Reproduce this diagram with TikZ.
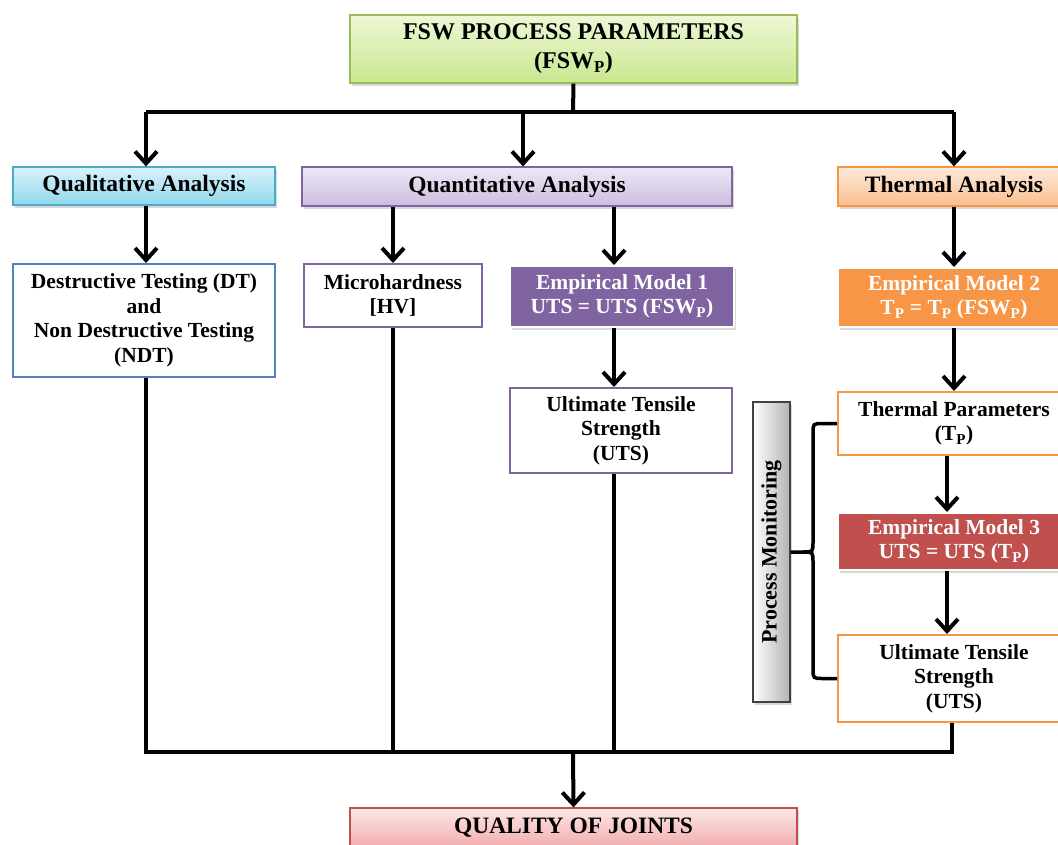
\documentclass[tikz,border=0pt]{standalone}
\usepackage{fontspec}
\setmainfont{Liberation Serif}
\usetikzlibrary{arrows.meta,shadows,calc}
\definecolor{gborder}{HTML}{9BBB59}
\definecolor{gtop}{HTML}{EEF8D6}
\definecolor{gbot}{HTML}{C9E78F}
\definecolor{cborder}{HTML}{4BACC6}
\definecolor{ctop}{HTML}{D9F2FA}
\definecolor{cbot}{HTML}{92D8EC}
\definecolor{pborder}{HTML}{8064A2}
\definecolor{ptop}{HTML}{EEE8F5}
\definecolor{pbot}{HTML}{CBBDE0}
\definecolor{oborder}{HTML}{F79646}
\definecolor{otop}{HTML}{FDEBDC}
\definecolor{obot}{HTML}{F9BE8E}
\definecolor{rborder}{HTML}{C0504D}
\definecolor{rtop}{HTML}{FDE7E7}
\definecolor{rbot}{HTML}{F0A3A2}
\definecolor{bborder}{HTML}{4F81BD}
\definecolor{emone}{HTML}{8064A2}
\definecolor{emtwo}{HTML}{F79646}
\definecolor{emthree}{HTML}{C0504D}
\tikzset{
  bx/.style={rectangle, inner sep=0pt, align=center, font=\fontsize{21.5}{24.5}\selectfont\bfseries, line width=2pt},
  shd/.style={drop shadow={shadow xshift=2pt, shadow yshift=-3pt, opacity=0.25, fill=black!60}},
  hdr/.style={bx, shd, font=\fontsize{23.5}{26}\selectfont\bfseries, line width=1.2pt},
  emb/.style={bx, shd, draw=white, text=white, line width=2pt},
  wire/.style={line width=4pt, draw=black},
  arr/.style={wire, -{Straight Barb[length=12pt,width=22pt]}},
}
\begin{document}
\begin{tikzpicture}[x=1pt,y=-1pt]
\useasboundingbox (0,0) rectangle (1058,844);
% top
\node[hdr, draw=gborder, top color=gtop, bottom color=gbot, minimum width=447pt, minimum height=68pt, font=\fontsize{24}{29}\selectfont\bfseries] (top) at (573.5,49) {FSW PROCESS PARAMETERS\\(FSW\textsubscript{P})};
% headers
\node[hdr, draw=cborder, top color=ctop, bottom color=cbot, minimum width=262pt, minimum height=38pt] (qual) at (144,186) {Qualitative Analysis};
\node[hdr, draw=pborder, top color=ptop, bottom color=pbot, minimum width=430pt, minimum height=39pt] (quant) at (517,186.5) {Quantitative Analysis};
\node[hdr, draw=oborder, top color=otop, bottom color=obot, minimum width=232pt, minimum height=39pt] (therm) at (954,186.5) {Thermal Analysis};
% second row
\node[bx, draw=bborder, fill=white, minimum width=262pt, minimum height=113pt] (dt) at (144,320.5) {Destructive Testing (DT)\\and\\Non Destructive Testing\\(NDT)};
\node[bx, draw=pborder, fill=white, minimum width=178pt, minimum height=63pt] (micro) at (393,295.5) {Microhardness\\{[HV]}};
\node[emb, fill=emone, minimum width=224pt, minimum height=61pt] (em1) at (622,296.5) {Empirical Model 1\\UTS = UTS (FSW\textsubscript{P})};
\node[bx, draw=pborder, fill=white, minimum width=222pt, minimum height=85pt] (uts1) at (621,430.5) {Ultimate Tensile\\Strength\\(UTS)};
\node[emb, fill=emtwo, minimum width=232pt, minimum height=59pt] (em2) at (954,297.5) {Empirical Model 2\\T\textsubscript{P} = T\textsubscript{P} (FSW\textsubscript{P})};
\node[bx, draw=oborder, fill=white, minimum width=232pt, minimum height=63pt] (tp) at (954,423.5) {Thermal Parameters\\(T\textsubscript{P})};
\node[emb, fill=emthree, minimum width=232pt, minimum height=57pt] (em3) at (954,541.5) {Empirical Model 3\\UTS = UTS (T\textsubscript{P})};
\node[bx, draw=oborder, fill=white, minimum width=232pt, minimum height=87pt] (uts2) at (954,678.5) {Ultimate Tensile\\Strength\\(UTS)};
\node[bx, shd, draw=black!75, line width=1.2pt, left color=white, right color=black!30, minimum width=37pt, minimum height=300pt] (pm) at (771.5,552) {};
\node[font=\fontsize{22}{24}\selectfont\bfseries, rotate=90] (pmt) at (pm.center) {Process Monitoring};
% bottom
\node[hdr, draw=rborder, top color=rtop, bottom color=rbot, minimum width=447pt, minimum height=46pt, font=\fontsize{23.5}{26}\selectfont\bfseries, text depth=10pt] (qj) at (573.5,831) {QUALITY OF JOINTS};
% column coordinates
\coordinate (split) at (573,112);
\coordinate (bus) at (573,752);
\coordinate (c1) at (146,0);
\coordinate (cq) at (523,0);
\coordinate (c2) at (614,0);
\coordinate (c3) at (954,0);
\coordinate (c3b) at (947,0);
\coordinate (c3c) at (952,0);
% top connectors
\draw[wire] (top.south) -- (split);
\draw[wire] (split -| c1) -- (split -| c3);
\draw[arr] (split -| c1) -- (qual.north -| c1);
\draw[arr] (split -| cq) -- (quant.north -| cq);
\draw[arr] (split -| c3) -- (therm.north -| c3);
% column connectors
\draw[arr] (qual.south -| c1) -- (dt.north -| c1);
\draw[arr] (quant.south -| micro) -- (micro.north);
\draw[arr] (quant.south -| c2) -- (em1.north -| c2);
\draw[arr] (em1.south -| c2) -- (uts1.north -| c2);
\draw[arr] (therm.south -| c3) -- (em2.north -| c3);
\draw[arr] (em2.south -| c3) -- (tp.north -| c3);
\draw[arr] (tp.south -| c3b) -- (em3.north -| c3b);
\draw[arr] (em3.south -| c3b) -- (uts2.north -| c3b);
% bus
\draw[wire] (dt.south -| c1) |- (bus -| c3c) -- (uts2.south -| c3c);
\draw[wire] (micro.south) -- (micro.south |- bus);
\draw[wire] (uts1.south -| c2) -- (bus -| c2);
\draw[arr] (bus) -- (qj.north);
% brace
\draw[line width=3.5pt] (tp.west) -- (823,423.5) .. controls (813,423.5) .. (813,433.5) -- (813,542) .. controls (813,552) .. (803,552) -- (pm.east);
\draw[line width=3.5pt] (803,552) .. controls (813,552) .. (813,562) -- (813,668.5) .. controls (813,678.5) .. (823,678.5) -- (uts2.west);
\end{tikzpicture}
\end{document}
